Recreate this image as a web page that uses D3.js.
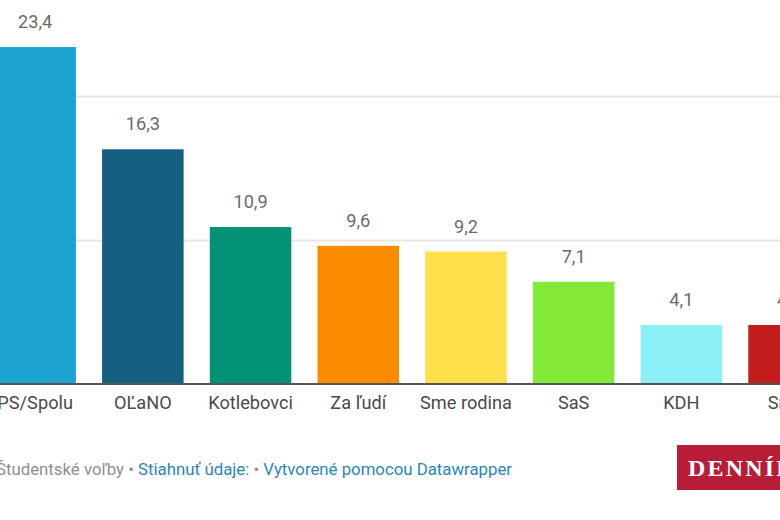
<!DOCTYPE html>
<html>
<head>
<meta charset="utf-8">
<script src="https://d3js.org/d3.v7.min.js"></script>
<style>
    html, body { margin: 0; padding: 0; background: #fff; overflow: hidden; }
    svg { display: block; }
    text { font-family: Roboto, sans-serif; }
    .grid line { stroke: #e6e6e6; stroke-width: 2px; }
    .grid path { display: none; }
    .cats path, .cats line { display: none; }
    .cats text { font-size: 18.2px; fill: #4a4a4a; font-family: Roboto, sans-serif; }
    .val { font-size: 18.2px; fill: #6f6a66; text-anchor: middle; }
    .foot { font-size: 16.8px; }
</style>
</head>
<body>
<svg id="chart" width="780" height="520"></svg>
<script>
var categories = ["PS/Spolu", "OĽaNO", "Kotlebovci", "Za ľudí", "Sme rodina", "SaS", "KDH", "Smer"];
var values = [23.4, 16.3, 10.9, 9.6, 9.2, 7.1, 4.1, 4.1];
var colors = ["#1ba2d1", "#156080", "#049276", "#fb8c00", "#ffe04a", "#84e936", "#8af0f5", "#c21c1c"];
var gridTicks = [10, 20];

var svg = d3.select("#chart");

var x = d3.scaleBand().domain(categories).range([-18.7, 842.9]).paddingInner(0.243).paddingOuter(0.1215);
var y = d3.scaleLinear().domain([0, 20]).range([384, 96]);

// gridlines sit behind the bars
svg.append("g")
    .attr("class", "grid")
    .call(d3.axisLeft(y).tickValues(gridTicks).tickSize(-780).tickFormat(""));

svg.selectAll("rect.bar")
    .data(categories)
    .enter()
    .append("rect")
    .attr("class", "bar")
    .attr("x", function (d) { return x(d); })
    .attr("y", function (d, i) { return y(values[i]); })
    .attr("width", x.bandwidth())
    .attr("height", function (d, i) { return y(0) - y(values[i]); })
    .attr("fill", function (d, i) { return colors[i]; });

svg.selectAll("text.val")
    .data(categories)
    .enter()
    .append("text")
    .attr("class", "val")
    .attr("x", function (d) { return x(d) + x.bandwidth() / 2; })
    .attr("y", function (d, i) { return y(values[i]) - 19; })
    .text(function (d, i) { return String(values[i]).replace(".", ","); });

// baseline
svg.append("line")
    .attr("x1", 0).attr("x2", 780)
    .attr("y1", y(0)).attr("y2", y(0))
    .attr("stroke", "#555").attr("stroke-width", 2);

var cats = svg.append("g")
    .attr("class", "cats")
    .attr("transform", "translate(0," + y(0) + ")")
    .call(d3.axisBottom(x).tickSize(0).tickPadding(12));

// footer
var foot = svg.append("text").attr("class", "foot").attr("x", -4).attr("y", 475);
foot.append("tspan").attr("fill", "#8f8f8f").text("Študentské voľby • ");
foot.append("tspan").attr("fill", "#2a86bd").text("Stiahnuť údaje:");
foot.append("tspan").attr("fill", "#8f8f8f").text(" • ");
foot.append("tspan").attr("fill", "#2a86bd").text("Vytvorené pomocou Datawrapper");

// logo
svg.append("rect")
    .attr("x", 677).attr("y", 445)
    .attr("width", 120).attr("height", 45)
    .attr("fill", "#b91c36");
svg.append("text")
    .attr("x", 688).attr("y", 476)
    .attr("fill", "#fff")
    .style("font-family", "'Liberation Serif', serif")
    .style("font-weight", "bold")
    .style("font-size", "24px")
    .style("letter-spacing", "2.2px")
    .text("DENNÍK N");
</script>
</body>
</html>
